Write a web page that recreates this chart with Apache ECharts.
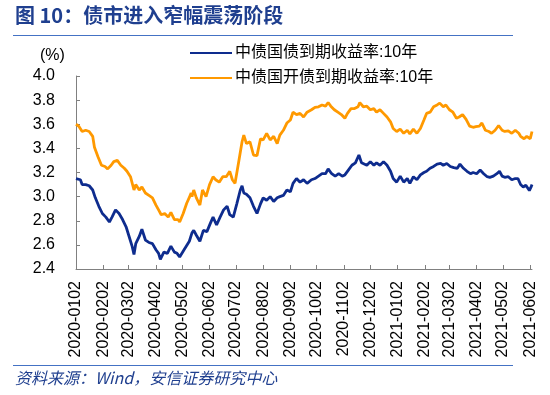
<!DOCTYPE html>
<html>
<head>
<meta charset="utf-8">
<script src="https://cdn.jsdelivr.net/npm/echarts@6/dist/echarts.min.js"></script>
<style>
html,body{margin:0;padding:0;background:#fff;}
#chart{width:550px;height:395px;}
</style>
</head>
<body>
<div id="chart"></div>
<script>
// Calendar span of the x axis (category per calendar day)
var startDate = '2020-01-02';
var dayCount = 520; // 2020-01-02 .. 2021-06-04

// Tick labels on y axis
var yTicks = [2.4, 2.6, 2.8, 3.0, 3.2, 3.4, 3.6, 3.8, 4.0];

var seriesNames = ['中债国债到期收益率:10年', '中债国开债到期收益率:10年'];

// 中债国债到期收益率:10年 — sample days (offset from 2020-01-02) and values (%)
var govDay = [0,5,7,11,15,19,22,26,30,34,38,41,45,49,53,57,60,64,66,68,72,75,79,83,87,91,94,96,100,104,108,112,115,118,123,129,132,134,137,141,145,149,153,156,160,164,168,172,175,179,183,187,189,191,194,198,202,206,210,213,217,221,225,229,232,236,240,244,247,251,255,259,263,265,268,272,276,280,284,287,291,295,299,303,306,310,314,318,322,325,327,331,335,339,342,346,350,354,358,361,365,369,373,377,380,384,388,392,396,399,403,407,411,415,418,422,426,430,434,437,441,445,449,452,456,460,464,468,471,475,479,482,485,488,492,496,500,503,506,509,512,516,518,519];
var govVal = [3.15,3.14,3.10,3.10,3.09,3.055,2.99,2.92,2.86,2.83,2.79,2.83,2.89,2.86,2.81,2.75,2.68,2.585,2.52,2.61,2.67,2.73,2.64,2.62,2.61,2.56,2.53,2.48,2.54,2.53,2.59,2.54,2.53,2.50,2.56,2.63,2.70,2.72,2.68,2.63,2.72,2.71,2.78,2.83,2.765,2.83,2.89,2.92,2.85,2.83,2.94,3.055,3.09,3.03,3.02,2.99,2.92,2.86,2.94,2.99,2.97,3.00,2.96,2.99,3.00,3.01,3.055,3.04,3.11,3.15,3.12,3.14,3.11,3.10,3.14,3.15,3.17,3.19,3.19,3.23,3.19,3.17,3.19,3.17,3.18,3.22,3.26,3.28,3.345,3.28,3.29,3.26,3.29,3.26,3.28,3.26,3.29,3.26,3.21,3.15,3.12,3.17,3.12,3.15,3.11,3.165,3.14,3.18,3.20,3.21,3.235,3.25,3.27,3.275,3.26,3.275,3.25,3.24,3.235,3.27,3.235,3.21,3.19,3.20,3.19,3.22,3.19,3.165,3.16,3.17,3.19,3.21,3.17,3.16,3.165,3.14,3.15,3.15,3.10,3.08,3.095,3.05,3.08,3.10];

// 中债国开债到期收益率:10年 — sample days (offset from 2020-01-02) and values (%)
var cdbDay = [0,3,7,11,15,19,21,25,29,33,36,40,43,47,51,55,58,62,66,68,72,75,79,83,87,91,94,97,101,105,108,112,116,118,122,126,130,131,132,134,137,141,144,148,152,156,159,163,167,171,175,178,181,185,189,191,194,198,202,206,210,213,217,221,225,229,232,236,240,244,247,251,255,259,263,265,268,272,276,280,284,287,290,294,298,302,306,309,313,317,321,323,327,331,335,339,342,346,350,354,358,361,365,369,373,377,380,384,388,392,396,399,403,407,411,414,418,421,425,429,433,436,440,444,448,452,455,459,462,466,470,473,477,481,485,488,492,496,500,504,506,510,513,517,518,519];
var cdbVal = [3.60,3.585,3.54,3.55,3.54,3.50,3.41,3.33,3.26,3.25,3.23,3.26,3.29,3.30,3.26,3.235,3.21,3.165,3.055,3.10,3.055,3.08,3.03,3.01,2.99,2.93,2.89,2.85,2.86,2.83,2.87,2.81,2.81,2.79,2.86,2.945,3.01,3.03,3.00,3.055,2.99,2.93,3.055,3.00,3.10,3.165,3.14,3.12,3.165,3.165,3.21,3.14,3.11,3.28,3.455,3.51,3.44,3.455,3.345,3.34,3.48,3.47,3.525,3.47,3.50,3.44,3.51,3.55,3.61,3.635,3.70,3.68,3.69,3.66,3.70,3.69,3.72,3.74,3.745,3.76,3.75,3.78,3.75,3.72,3.70,3.68,3.65,3.69,3.73,3.73,3.745,3.78,3.745,3.75,3.72,3.73,3.70,3.72,3.69,3.66,3.62,3.565,3.54,3.56,3.525,3.55,3.52,3.56,3.525,3.565,3.635,3.69,3.70,3.745,3.76,3.775,3.745,3.76,3.72,3.70,3.65,3.66,3.68,3.64,3.585,3.575,3.58,3.585,3.61,3.55,3.54,3.525,3.55,3.59,3.55,3.54,3.545,3.525,3.55,3.525,3.50,3.48,3.50,3.48,3.51,3.54];

function pad(n){return (n<10?'0':'')+n;}
var categories = [];
(function(){
  var p = startDate.split('-');
  var t0 = Date.UTC(+p[0], +p[1]-1, +p[2]);
  for (var i = 0; i < dayCount; i++) {
    var d = new Date(t0 + i*86400000);
    categories.push(d.getUTCFullYear()+'-'+pad(d.getUTCMonth()+1)+'-'+pad(d.getUTCDate()));
  }
})();

function pairs(days, vals){
  var out = [];
  for (var i = 0; i < days.length; i++) out.push([categories[days[i]], vals[i]]);
  return out;
}
function isMonthMark(idx, val){ return val.slice(8) === '02'; }

var cjk = '"Liberation Sans", Arial, "Noto Sans CJK SC", sans-serif';
var chart = echarts.init(document.getElementById('chart'), null, {renderer:'canvas'});
chart.setOption({
  animation: false,
  backgroundColor: '#fff',
  textStyle: {fontFamily: cjk},
  grid: {left: 76, right: 18, top: 76, bottom: 126, containLabel: false, outerBoundsMode: 'none'},
  legend: {
    orient: 'vertical', left: 184, top: 40,
    itemWidth: 42, itemHeight: 14, itemGap: 9,
    itemStyle: {opacity: 0},
    textStyle: {fontSize: 16, color: '#000', fontFamily: cjk, padding: [0,0,0,-2]},
    data: seriesNames
  },
  xAxis: {
    type: 'category', data: categories, boundaryGap: false,
    axisLine: {lineStyle: {color: '#808080', width: 1}},
    axisTick: {inside: true, length: 4, interval: isMonthMark, lineStyle: {color: '#808080'}},
    axisLabel: {
      interval: isMonthMark, rotate: 90, margin: 12, fontSize: 16, color: '#000',
      fontFamily: '"Liberation Sans", Arial, sans-serif',
      formatter: function(v){ return v.slice(0,4)+'-'+v.slice(5,7)+v.slice(8,10); }
    },
    splitLine: {show: false}
  },
  yAxis: {
    type: 'value', min: yTicks[0], max: yTicks[yTicks.length-1], interval: 0.2,
    axisLine: {show: true, lineStyle: {color: '#808080', width: 1}},
    axisTick: {show: true, inside: true, length: 4, lineStyle: {color: '#808080'}},
    axisLabel: {margin: 21, fontSize: 16, color: '#000', fontFamily: '"Liberation Sans", Arial, sans-serif',
      formatter: function(v){ return v.toFixed(1); }},
    splitLine: {show: false}
  },
  graphic: [
    {type: 'text', left: 15, top: 5, style: {text: '图 10：债市进入窄幅震荡阶段', font: 'bold 20px "Noto Sans CJK SC", sans-serif', fill: '#1F3F8F'}},
    {type: 'line', shape: {x1: 13, y1: 35.5, x2: 513, y2: 35.5}, style: {stroke: '#4472C4', lineWidth: 1}},
    {type: 'text', left: 40, top: 48, style: {text: '(%)', font: '16px "Liberation Sans", Arial, sans-serif', fill: '#000'}},
    {type: 'line', shape: {x1: 13, y1: 365.5, x2: 513, y2: 365.5}, style: {stroke: '#4472C4', lineWidth: 1}},
    {type: 'text', left: 15, top: 370, style: {text: '资料来源：Wind，安信证券研究中心', font: 'italic 16px "Noto Sans CJK SC", sans-serif', fill: '#1F3F8F'}}
  ],
  series: [
    {name: seriesNames[0], type: 'line', data: pairs(govDay, govVal), symbol: 'none', smooth: false,
      lineStyle: {color: '#0E2C8E', width: 2.8}, itemStyle: {color: '#0E2C8E'}},
    {name: seriesNames[1], type: 'line', data: pairs(cdbDay, cdbVal), symbol: 'none', smooth: false,
      lineStyle: {color: '#FF9900', width: 2.8}, itemStyle: {color: '#FF9900'}}
  ]
});
</script>
</body>
</html>
